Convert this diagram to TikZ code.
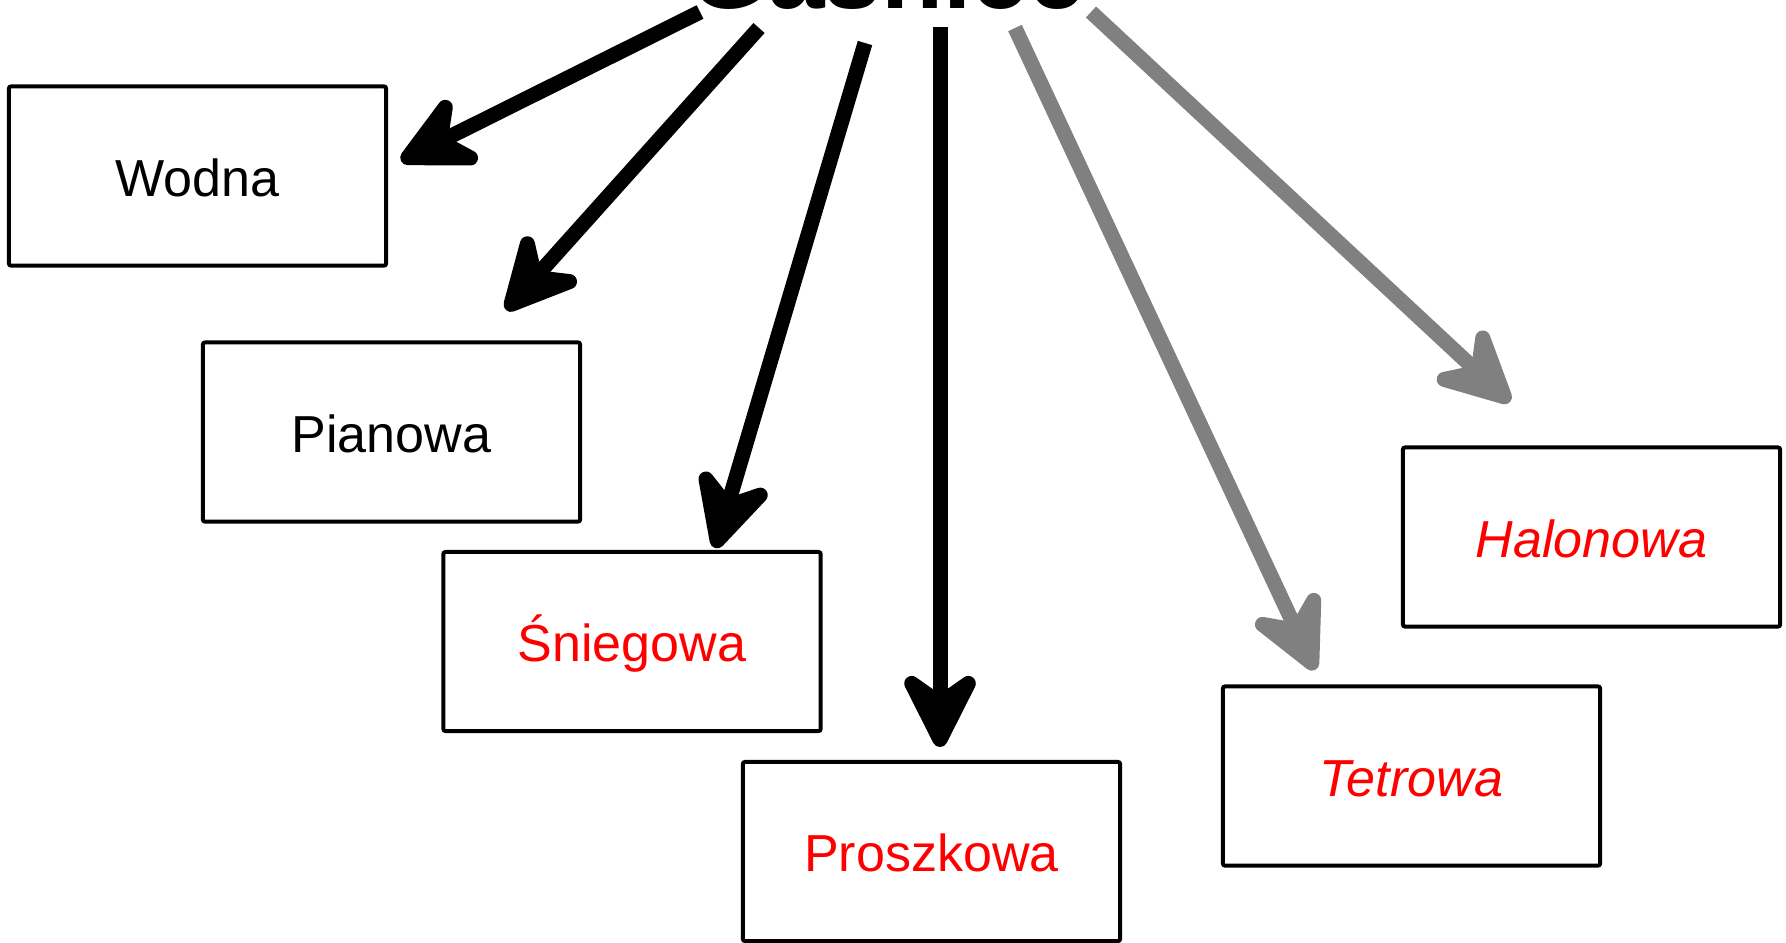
\documentclass[tikz,border=0pt]{standalone}
\usepackage{fontspec}
\setmainfont{Liberation Sans}
\usetikzlibrary{arrows.meta}
\definecolor{arrgray}{HTML}{808080}
\definecolor{lblred}{HTML}{FF0000}
\begin{document}
\begin{tikzpicture}[x=0.01cm,y=-0.01cm,
  box/.style={draw, line width=0.04cm, rounded corners=0.6pt,
    minimum width=3.77cm, minimum height=1.79cm, inner sep=0pt,
    font=\fontsize{14.8pt}{17pt}\selectfont, text height=11.4pt, text depth=0pt},
  redlbl/.style={text=lblred},
  conn/.style={line width=0.15cm,
    -{Stealth[length=0.95cm,width=0.95cm,inset=0.33cm,round]}},
  gconn/.style={conn, color=arrgray}]
\clip (0,0) rectangle (1786,942);
\fill[white] (0,0) rectangle (1786,942);

\node[font=\bfseries\fontsize{28.9pt}{30pt}\selectfont, anchor=base, inner sep=0pt] (title) at (887,8) {Gaśnice};

\node[box] (wodna) at (197.5,176) {Wodna};
\node[box] (pianowa) at (391.5,432) {Pianowa};
\node[box, redlbl] (snieg) at (632,641.5) {Śniegowa};
\node[box, redlbl] (proszek) at (931.5,851.5) {Proszkowa};
\node[box, redlbl, font=\itshape\fontsize{14.8pt}{17pt}\selectfont] (tetra) at (1411.5,776) {Tetrowa};
\node[box, redlbl, font=\itshape\fontsize{14.8pt}{17pt}\selectfont] (halon) at (1591.5,537) {Halonowa};

\coordinate (s1) at (700,12);
\coordinate (s2) at (759,28);
\coordinate (s3) at (865,43);
\coordinate (s4) at (940,27);
\coordinate (s5) at (1015,28);
\coordinate (s6) at (1091,12);
\coordinate (t1) at (401,161);
\coordinate (t2) at (506,310);
\coordinate (t3) at (715,548);
\coordinate (t4) at (940,747);
\coordinate (t5) at (1315,670);
\coordinate (t6) at (1510,402);

\draw[conn] (s1) -- (t1);
\draw[conn] (s2) -- (t2);
\draw[conn] (s3) -- (t3);
\draw[conn] (s4) -- (t4);
\draw[gconn] (s5) -- (t5);
\draw[gconn] (s6) -- (t6);
\end{tikzpicture}
\end{document}
